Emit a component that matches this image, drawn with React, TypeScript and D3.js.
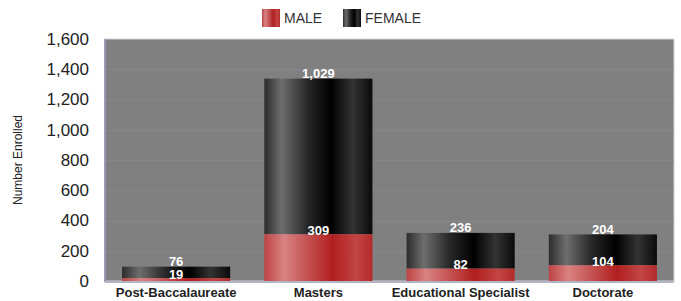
import React, { useEffect, useRef } from "react";
import * as d3 from "d3";

const categories = ["Post-Baccalaureate", "Masters", "Educational Specialist", "Doctorate"];
const maleValues = [19, 309, 82, 104];
const femaleValues = [76, 1029, 236, 204];
const yTicks = [0, 200, 400, 600, 800, 1000, 1200, 1400, 1600];

const W = 681;
const H = 301;
const plot = { left: 105, right: 674, top: 39, bottom: 281 };

const maleStops = [
  [0, "#bd4343"],
  [0.18, "#d98282"],
  [0.4, "#c45252"],
  [0.63, "#b01f1f"],
  [0.85, "#c24545"],
  [1, "#b32a2a"],
];
const femaleStops = [
  [0, "#2c2c2c"],
  [0.16, "#6e6e6e"],
  [0.4, "#272727"],
  [0.62, "#000000"],
  [0.82, "#333333"],
  [1, "#0a0a0a"],
];

export default function App() {
  const ref = useRef<SVGSVGElement>(null);

  useEffect(() => {
    const svg = d3.select(ref.current);
    svg.selectAll("*").remove();

    const defs = svg.append("defs");
    const grad = (id: string, stops: (string | number)[][]) => {
      const g = defs.append("linearGradient").attr("id", id).attr("x1", "0%").attr("x2", "100%").attr("y1", "0%").attr("y2", "0%");
      stops.forEach(([o, c]) => g.append("stop").attr("offset", o as number).attr("stop-color", c as string));
    };
    grad("maleGrad", maleStops);
    grad("femaleGrad", femaleStops);

    const x = d3.scaleBand().domain(categories).range([plot.left, plot.right]).paddingInner(0.24).paddingOuter(0.12);
    const y = d3.scaleLinear().domain([0, 1600]).range([plot.bottom, plot.top]);

    // plot background
    svg.append("rect")
      .attr("x", plot.left).attr("y", plot.top)
      .attr("width", plot.right - plot.left).attr("height", plot.bottom - plot.top)
      .attr("fill", "#808080")
      .attr("stroke", "#d4d4dc").attr("stroke-width", 1);

    // faint grid
    svg.append("g").selectAll("line").data(yTicks.slice(1, -1)).enter().append("line")
      .attr("x1", plot.left).attr("x2", plot.right)
      .attr("y1", d => Math.round(y(d)) + 0.5).attr("y2", d => Math.round(y(d)) + 0.5)
      .attr("stroke", "#868690").attr("stroke-width", 1);

    // left and bottom edges
    svg.append("line").attr("x1", plot.left).attr("x2", plot.left).attr("y1", plot.top).attr("y2", plot.bottom + 1)
      .attr("stroke", "#9a9ab4").attr("stroke-width", 2);
    svg.append("line").attr("x1", plot.left).attr("x2", plot.right).attr("y1", plot.bottom + 1).attr("y2", plot.bottom + 1)
      .attr("stroke", "#b4b4c8").attr("stroke-width", 2);

    const rows = categories.map((c, i) => ({ c, m: maleValues[i], f: femaleValues[i] }));
    const bars = svg.append("g");

    bars.selectAll("rect.female").data(rows).enter().append("rect")
      .attr("x", d => x(d.c)!)
      .attr("y", d => y(d.m + d.f))
      .attr("width", x.bandwidth())
      .attr("height", d => y(d.m) - y(d.m + d.f))
      .attr("fill", "url(#femaleGrad)");

    bars.selectAll("rect.male").data(rows).enter().append("rect")
      .attr("x", d => x(d.c)!)
      .attr("y", d => y(d.m))
      .attr("width", x.bandwidth())
      .attr("height", d => y(0) - y(d.m))
      .attr("fill", "url(#maleGrad)");

    const fmt = d3.format(",");
    const labels = svg.append("g")
      .style("font-family", "Arial, 'Liberation Sans', sans-serif")
      .style("font-weight", "bold")
      .style("font-size", "13px")
      .attr("fill", "#ffffff")
      .attr("text-anchor", "middle");
    rows.forEach(d => {
      labels.append("text").attr("x", x(d.c)! + x.bandwidth() / 2).attr("y", y(d.m + d.f) - 0.5).text(fmt(d.f));
      labels.append("text").attr("x", x(d.c)! + x.bandwidth() / 2).attr("y", y(d.m) + 0.5).text(fmt(d.m));
    });

    // y axis
    const yAxis = svg.append("g")
      .attr("transform", `translate(${plot.left - 16},0)`)
      .call(d3.axisLeft(y).tickValues(yTicks).tickFormat(d3.format(",")).tickSize(0).tickPadding(0));
    yAxis.select(".domain").remove();
    yAxis.selectAll("text")
      .style("font-family", "Arial, 'Liberation Sans', sans-serif")
      .style("font-size", "17px")
      .attr("fill", "#222222");

    svg.append("text")
      .attr("transform", `translate(22,${(plot.top + plot.bottom) / 2}) rotate(-90)`)
      .attr("text-anchor", "middle")
      .style("font-family", "Arial, 'Liberation Sans', sans-serif")
      .style("font-size", "12px")
      .attr("fill", "#222222")
      .text("Number Enrolled");

    // x labels
    svg.append("g").selectAll("text").data(categories).enter().append("text")
      .attr("x", d => x(d)! + x.bandwidth() / 2)
      .attr("y", 297)
      .attr("text-anchor", "middle")
      .style("font-family", "Arial, 'Liberation Sans', sans-serif")
      .style("font-weight", "bold")
      .style("font-size", "13px")
      .attr("fill", "#222222")
      .text(d => d);

    // legend
    const legend = [
      { name: "MALE", fill: "url(#maleGrad)", x: 262 },
      { name: "FEMALE", fill: "url(#femaleGrad)", x: 343 },
    ];
    const lg = svg.append("g");
    legend.forEach(l => {
      lg.append("rect").attr("x", l.x).attr("y", 9).attr("width", 18).attr("height", 18).attr("fill", l.fill);
      lg.append("text").attr("x", l.x + 22).attr("y", 23)
        .style("font-family", "Arial, 'Liberation Sans', sans-serif")
        .style("font-size", "14px")
        .attr("fill", "#333333")
        .text(l.name);
    });
  }, []);

  return (
    <svg ref={ref} width={W} height={H} style={{ position: "absolute", left: 0, top: 0 }} />
  );
}
